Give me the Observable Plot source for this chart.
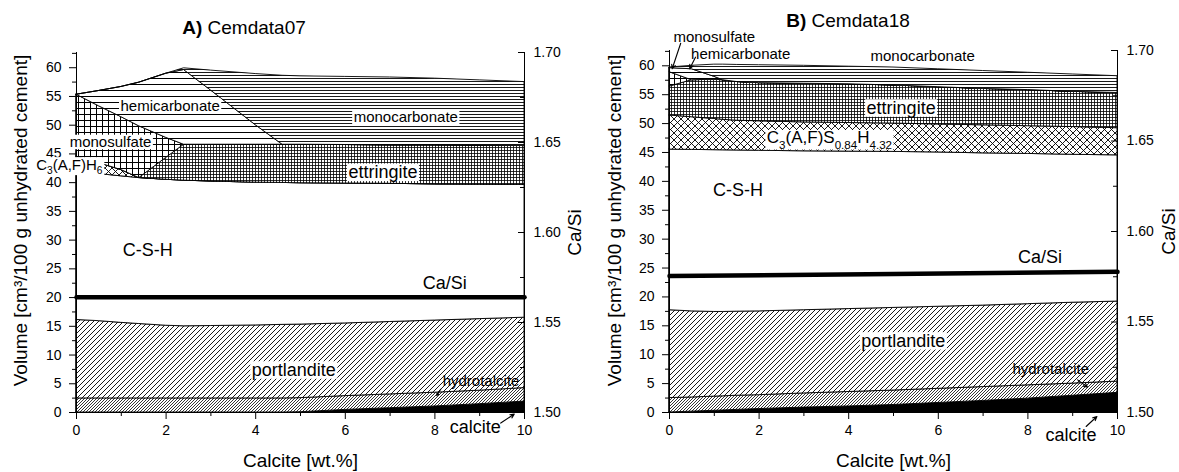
<!DOCTYPE html>
<html>
<head>
<meta charset="utf-8">
<script src="https://cdn.jsdelivr.net/npm/d3@7"></script>
<script src="https://cdn.jsdelivr.net/npm/@observablehq/plot@0.6"></script>
<style>
  body { margin: 0; background: #fff; font-family: "Liberation Sans", Arial, sans-serif; }
  #wrap { position: relative; width: 1179px; height: 472px; overflow: hidden; background: #fff; }
  .panel { position: absolute; top: 0; }
  .title { position: absolute; font-size: 19px; line-height: 19px; white-space: nowrap; transform: translateX(-50%); color: #000; }
</style>
</head>
<body>
<svg width="0" height="0" style="position:absolute">
  <defs>
    <pattern id="p-hatch" width="5" height="5" patternUnits="userSpaceOnUse">
      <rect width="5" height="5" fill="white"/>
      <path d="M-1,1L1,-1M0,5L5,0M4,6L6,4" stroke="black" stroke-width="0.9"/>
    </pattern>
    <pattern id="p-hatch-fine" width="3" height="3" patternUnits="userSpaceOnUse">
      <rect width="3" height="3" fill="white"/>
      <path d="M-1,1L1,-1M0,3L3,0M2,4L4,2" stroke="black" stroke-width="0.8"/>
    </pattern>
    <pattern id="p-diamond" width="7" height="7" patternUnits="userSpaceOnUse">
      <rect width="7" height="7" fill="white"/>
      <path d="M0,0L7,7M7,0L0,7" stroke="black" stroke-width="0.9"/>
    </pattern>
    <pattern id="p-grid" width="6" height="6" patternUnits="userSpaceOnUse">
      <rect width="6" height="6" fill="white"/>
      <rect width="6" height="1" fill="black"/>
      <rect width="1" height="6" fill="black"/>
    </pattern>
    <pattern id="p-grid-fine" width="3" height="3" patternUnits="userSpaceOnUse">
      <rect width="3" height="3" fill="white"/>
      <rect width="3" height="0.8" fill="black"/>
      <rect width="0.8" height="3" fill="black"/>
    </pattern>
    <pattern id="p-hlines" width="6" height="6" patternUnits="userSpaceOnUse">
      <rect width="6" height="6" fill="white"/>
      <rect width="6" height="1" fill="black"/>
    </pattern>
    <pattern id="p-hlines-dense" width="3" height="3" patternUnits="userSpaceOnUse">
      <rect width="3" height="3" fill="white"/>
      <rect width="3" height="0.9" fill="black"/>
    </pattern>
  </defs>
</svg>
<div id="wrap">
  <div class="title" style="left:244px; top:18px;"><b>A)</b> Cemdata07</div>
  <div class="title" style="left:848px; top:11px;"><b>B)</b> Cemdata18</div>
</div>
<script>
// ---- Axis ticks -------------------------------------------------------
const volumeTicks = [0, 5, 10, 15, 20, 25, 30, 35, 40, 45, 50, 55, 60];
const volumeMinor = [2.5, 7.5, 12.5, 17.5, 22.5, 27.5, 32.5, 37.5, 42.5, 47.5, 52.5, 57.5, 62.5];
const calciteTicks = [0, 2, 4, 6, 8, 10];
const calciteMinor = [1, 3, 5, 7, 9];
const caSiTicks = [1.50, 1.55, 1.60, 1.65, 1.70];
const caSiMinor = [1.525, 1.575, 1.625, 1.675];

// ---- A) Cemdata07: phase volumes (cm3 per 100 g cement), stacked bottom-up
const phasesA = ["calcite", "hydrotalcite", "portlandite", "C-S-H", "C3AH6", "ettringite", "monosulfate", "hemicarbonate", "monocarbonate"];
const calciteAddA = [0, 0.5, 1, 1.4, 2, 2.4, 3, 4, 4.6, 5, 6, 7, 8, 9, 10];
const calciteA       = [0, 0, 0, 0, 0, 0, 0, 0, 0, 0.05, 0.45, 0.75, 1.05, 1.45, 1.9];
const hydrotalciteA  = [2.45, 2.45, 2.45, 2.45, 2.45, 2.45, 2.45, 2.45, 2.45, 2.45, 2.4, 2.4, 2.4, 2.35, 2.35];
const portlanditeA   = [13.65, 13.45, 13.15, 12.95, 12.65, 12.55, 12.6, 12.7, 12.8, 12.8, 12.65, 12.6, 12.55, 12.45, 12.25];
const cshA           = [25.6, 25.6, 25.5, 25.4, 25.4, 25.35, 25.15, 24.85, 24.7, 24.6, 24.35, 24.05, 23.7, 23.4, 23.1];
const c3ah6A         = [2.8, 1.9, 1.1, 0, 0, 0, 0, 0, 0, 0, 0, 0, 0, 0, 0];
const ettringiteA    = [0, 0, 0, 0, 3.8, 6.25, 6.4, 6.6, 6.65, 6.7, 6.7, 6.7, 6.8, 6.8, 6.8];
const monosulfateA   = [10.8, 9.9, 9.2, 9.0, 3.5, 0, 0, 0, 0, 0, 0, 0, 0, 0, 0];
const hemicarbonateA = [0, 2.65, 5.25, 7.6, 11.15, 13.0, 9.45, 3.4, 0, 0, 0, 0, 0, 0, 0];
const monocarbonateA = [0, 0, 0, 0, 0, 0.3, 3.45, 8.9, 12.0, 11.9, 11.85, 11.8, 11.6, 11.35, 11.1];
const caSiAddA = [0, 5, 10];
const caSiA = [1.564, 1.564, 1.564];

// ---- B) Cemdata18
const phasesB = ["calcite", "hydrotalcite", "portlandite", "C-S-H", "C3FS", "ettringite", "monosulfate", "hemicarbonate", "monocarbonate"];
const calciteAddB = [0, 0.5, 1, 1.2, 1.5, 2, 3, 4, 5, 6, 7, 8, 9, 10];
const calciteB       = [0, 0.15, 0.3, 0.36, 0.45, 0.6, 0.85, 1.05, 1.3, 1.65, 2.0, 2.4, 2.9, 3.4];
const hydrotalciteB  = [2.5, 2.45, 2.45, 2.44, 2.45, 2.4, 2.45, 2.5, 2.5, 2.45, 2.4, 2.3, 2.1, 1.95];
const portlanditeB   = [15.2, 14.9, 14.65, 14.6, 14.55, 14.5, 14.4, 14.35, 14.3, 14.2, 14.1, 14.05, 14.0, 13.85];
const cshB           = [27.8, 27.95, 28.0, 27.98, 27.9, 27.8, 27.5, 27.25, 27.0, 26.7, 26.35, 26.0, 25.6, 25.3];
const c3fsB          = [5.9, 5.65, 5.4, 5.27, 5.15, 5.1, 5.0, 4.95, 4.9, 4.85, 4.85, 4.8, 4.8, 4.7];
const ettringiteB    = [5.0, 6.4, 6.8, 6.85, 6.7, 6.6, 6.7, 6.7, 6.6, 6.45, 6.3, 6.25, 6.1, 6.1];
const monosulfateB   = [2.5, 0, 0, 0, 0, 0, 0, 0, 0, 0, 0, 0, 0, 0];
const hemicarbonateB = [0.7, 1.9, 0.5, 0, 0, 0, 0, 0, 0, 0, 0, 0, 0, 0];
const monocarbonateB = [0.1, 0.6, 2.1, 2.7, 2.95, 3.1, 3.1, 3.05, 3.1, 3.1, 3.1, 3.0, 3.0, 2.9];
const caSiAddB = [0, 5, 10];
const caSiB = [1.5754, 1.5765, 1.5777];

// ---- Annotations (data coordinates)
const labelTextA = ["hemicarbonate", "monocarbonate", "monosulfate", "C_3(A,F)H_6", "ettringite", "C-S-H", "Ca/Si", "portlandite", "hydrotalcite", "calcite"];
const labelXA    = [2.09, 7.35, 0.76, -0.16, 6.84, 1.59, 8.22, 4.85, 9.03, 8.9];
const labelYA    = [53.3, 51.35, 47.0, 43.1, 41.8, 28.2, 22.5, 7.4, 5.4, -2.57];
const arrowA = {x1: [8.13, 9.47], y1: [4.05, -1.84], x2: [8.04, 9.77], y2: [2.95, -0.28]};

const labelTextB = ["monosulfate", "hemicarbonate", "monocarbonate", "ettringite", "C_3(A,F)S_0.84H_4.32", "C-S-H", "Ca/Si", "portlandite", "hydrotalcite", "calcite"];
const labelXB    = [1.0, 1.59, 5.65, 5.17, 3.57, 1.53, 8.27, 5.22, 8.51, 8.96];
const labelYB    = [64.9, 61.95, 61.6, 52.7, 47.5, 38.5, 26.9, 12.4, 7.5, -3.85];
const arrowB = {x1: [0.25, 0.58, 9.11, 9.30], y1: [63.9, 61.5, 5.65, -2.42], x2: [0.06, 0.45, 9.33, 9.54], y2: [59.5, 59.5, 4.39, -0.69]};

// ---- Styling ---------------------------------------------------------
const FONT = '"Liberation Sans", Arial, sans-serif';
const Y_MAX = 62.65;                 // left axis top, aligned with Ca/Si = 1.70
const CASI_LO = 1.5, CASI_HI = 1.7;
const toY = c => (c - CASI_LO) / (CASI_HI - CASI_LO) * Y_MAX;
const fromY = y => CASI_LO + y / Y_MAX * (CASI_HI - CASI_LO);

const FILL = {
  "calcite": "black",
  "hydrotalcite": "url(#p-hatch-fine)",
  "portlandite": "url(#p-hatch)",
  "C-S-H": "white",
  "C3AH6": "url(#p-diamond)",
  "C3FS": "url(#p-diamond)",
  "ettringite": "url(#p-grid-fine)",
  "monosulfate": "url(#p-grid)",
  "hemicarbonate": "url(#p-hlines)",
  "monocarbonate": "url(#p-hlines-dense)"
};
const BIG_LABELS = new Set(["C-S-H", "portlandite", "ettringite", "calcite", "Ca/Si"]);
const labelSize = t => BIG_LABELS.has(t) ? 18 : (t.startsWith("C_3(A,F)S") ? 17 : 15);

function drawPanel(cfg) {
  const rows = cfg.phases.flatMap((p, i) => cfg.x.map((x, j) => ({phase: p, x, v: cfg.volumes[i][j]})));
  const caSi = cfg.caSiX.map((x, i) => ({x, c: cfg.caSi[i]}));
  const labels = cfg.labelText.map((t, i) => ({t, x: cfg.labelX[i], y: cfg.labelY[i]}));
  const arrows = cfg.arrows.x1.map((_, i) => ({x1: cfg.arrows.x1[i], y1: cfg.arrows.y1[i], x2: cfg.arrows.x2[i], y2: cfg.arrows.y2[i]}));

  return Plot.plot({
    width: cfg.width,
    height: 472,
    marginLeft: cfg.marginLeft,
    marginRight: cfg.marginRight,
    marginTop: cfg.marginTop,
    marginBottom: 60,
    style: {fontFamily: FONT, fontSize: "14px", color: "black", background: "transparent", overflow: "visible"},
    x: {domain: [0, 10], label: null},
    y: {domain: [0, Y_MAX], label: null},
    color: {domain: cfg.phases, range: cfg.phases.map(p => FILL[p])},
    marks: [
      // stacked phase assemblage
      Plot.areaY(rows, {x: "x", y: "v", z: "phase", fill: "phase", stroke: "black", strokeWidth: 0.9, strokeLinejoin: "round"}),
      // Ca/Si of C-S-H on the right-hand scale
      Plot.line(caSi, {x: "x", y: d => toY(d.c), stroke: "black", strokeWidth: 4.5}),
      // frame lines
      Plot.ruleX([0, 10], {stroke: "black"}),
      Plot.ruleY([0], {stroke: "black"}),
      // left axis
      Plot.axisY({anchor: "left", ticks: volumeTicks, tickSize: 7, tickPadding: 8, fontSize: 14, label: null}),
      Plot.axisY({anchor: "left", ticks: volumeMinor.filter(v => v < Y_MAX), tickSize: 4, fill: "none", label: null}),
      // right Ca/Si axis (ticks pointing inwards)
      Plot.axisY({anchor: "right", ticks: caSiTicks.map(toY), tickFormat: y => fromY(y).toFixed(2), tickSize: 0, tickPadding: 9, fontSize: 14, label: null}),
      Plot.axisY({anchor: "left", frameAnchor: "right", ticks: caSiTicks.map(toY), tickSize: 6, fill: "none", label: null}),
      Plot.axisY({anchor: "left", frameAnchor: "right", ticks: caSiMinor.map(toY), tickSize: 4, fill: "none", label: null}),
      // bottom axis
      Plot.axisX({ticks: calciteTicks, tickSize: 7, tickPadding: 6, fontSize: 14, label: null}),
      Plot.axisX({ticks: calciteMinor, tickSize: 4, fill: "none", label: null}),
      // axis titles
      Plot.text(["Calcite [wt.%]"], {frameAnchor: "bottom", textAnchor: "middle", lineAnchor: "bottom", dy: 54, fontSize: 19}),
      Plot.text(["Volume [cm³/100 g unhydrated cement]"], {frameAnchor: "left", textAnchor: "middle", lineAnchor: "middle", rotate: -90, dx: cfg.yTitleDx, dy: cfg.yTitleDy, fontSize: 19}),
      Plot.text(["Ca/Si"], {frameAnchor: "right", textAnchor: "middle", lineAnchor: "middle", rotate: -90, dx: cfg.caSiTitleDx, fontSize: 19}),
      // phase annotations
      Plot.text(labels, {x: "x", y: "y", text: "t", fontSize: d => labelSize(d.t)}),
      Plot.arrow(arrows, {x1: "x1", y1: "y1", x2: "x2", y2: "y2", stroke: "black", strokeWidth: 1.1, headLength: 6, headAngle: 50})
    ]
  });
}

// Put white boxes behind the chosen labels and turn "_n" runs into subscripts
function finish(svg, boxed) {
  const ns = "http://www.w3.org/2000/svg";
  const texts = Array.from(svg.querySelectorAll("text"));
  const toBox = texts.filter(t => boxed.has(t.textContent));
  texts.forEach(t => {
    const s = t.textContent;
    if (!s.includes("_")) return;
    const fs = parseFloat(getComputedStyle(t).fontSize) || 15;
    const parts = s.split(/_([0-9.]+)/);
    t.textContent = "";
    let shifted = false;
    parts.forEach((p, i) => {
      if (!p) return;
      const ts = document.createElementNS(ns, "tspan");
      ts.textContent = p;
      if (i % 2) {
        ts.setAttribute("font-size", (fs * 0.68).toFixed(1));
        if (!shifted) ts.setAttribute("dy", (fs * 0.3).toFixed(1));
        shifted = true;
      } else if (shifted) {
        ts.setAttribute("dy", (-fs * 0.3).toFixed(1));
        shifted = false;
      }
      t.appendChild(ts);
    });
  });
  toBox.forEach(t => {
    const b = t.getBBox();
    const r = document.createElementNS(ns, "rect");
    r.setAttribute("x", b.x - 1.5);
    r.setAttribute("y", b.y + 1.5);
    r.setAttribute("width", b.width + 3);
    r.setAttribute("height", Math.max(0, b.height - 2.5));
    r.setAttribute("fill", "white");
    r.setAttribute("stroke", "none");
    const tr = t.getAttribute("transform");
    if (tr) r.setAttribute("transform", tr);
    t.parentNode.insertBefore(r, t);
  });
}

const wrap = document.getElementById("wrap");

const svgA = drawPanel({
  phases: phasesA, x: calciteAddA,
  volumes: [calciteA, hydrotalciteA, portlanditeA, cshA, c3ah6A, ettringiteA, monosulfateA, hemicarbonateA, monocarbonateA],
  caSiX: caSiAddA, caSi: caSiA,
  labelText: labelTextA, labelX: labelXA, labelY: labelYA, arrows: arrowA,
  width: 590, marginLeft: 76, marginRight: 66, marginTop: 52,
  yTitleDx: -56, yTitleDy: -12, caSiTitleDx: 50
});
const svgB = drawPanel({
  phases: phasesB, x: calciteAddB,
  volumes: [calciteB, hydrotalciteB, portlanditeB, cshB, c3fsB, ettringiteB, monosulfateB, hemicarbonateB, monocarbonateB],
  caSiX: caSiAddB, caSi: caSiB,
  labelText: labelTextB, labelX: labelXB, labelY: labelYB, arrows: arrowB,
  width: 589, marginLeft: 79, marginRight: 62, marginTop: 50,
  yTitleDx: -55, yTitleDy: -11, caSiTitleDx: 51
});

const boxedA = new Set(["hemicarbonate", "monocarbonate", "monosulfate", "C_3(A,F)H_6", "ettringite", "portlandite"]);
const boxedB = new Set(["ettringite", "C_3(A,F)S_0.84H_4.32", "portlandite"]);

for (const [svg, left, boxed] of [[svgA, 0, boxedA], [svgB, 590, boxedB]]) {
  const holder = document.createElement("div");
  holder.className = "panel";
  holder.style.left = left + "px";
  holder.appendChild(svg);
  wrap.insertBefore(holder, wrap.firstChild);
  finish(svg, boxed);
}
</script>
</body>
</html>
